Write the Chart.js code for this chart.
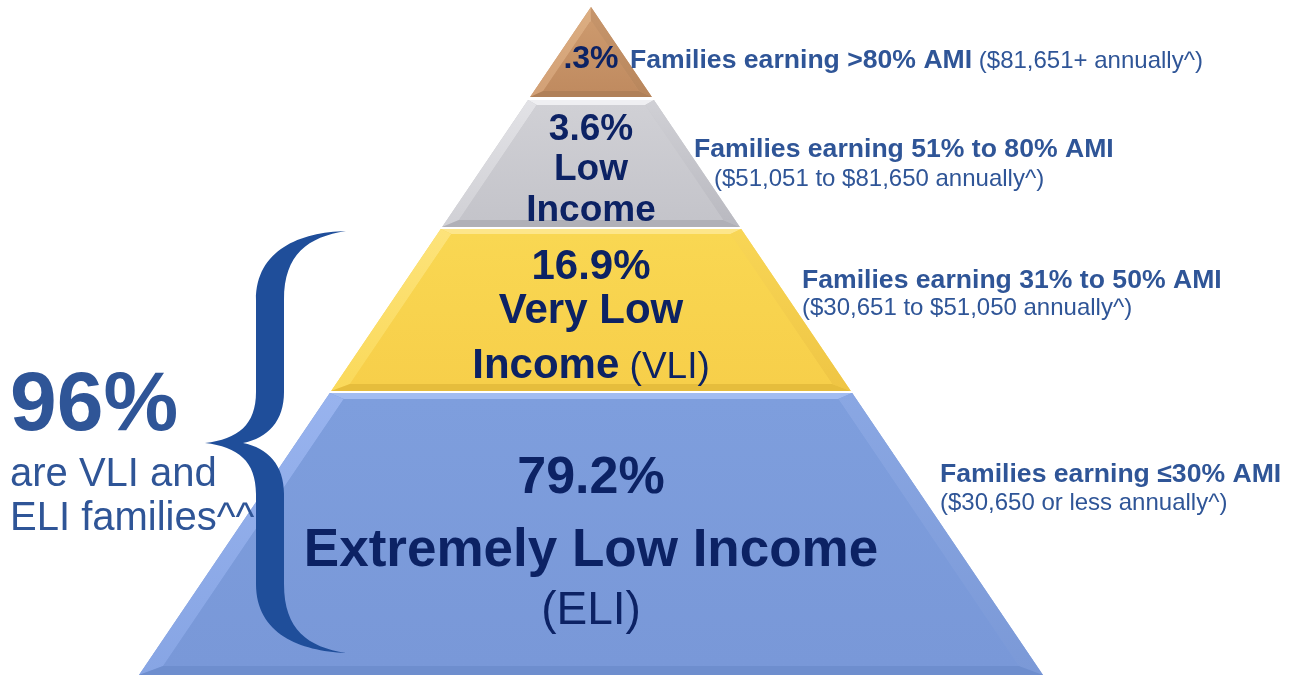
<!DOCTYPE html>
<html><head><meta charset="utf-8">
<script src="https://cdn.jsdelivr.net/npm/chart.js@4.4.1/dist/chart.umd.min.js"></script>
<style>html,body{margin:0;padding:0;background:#fff;overflow:hidden}#wrap{width:1293px;height:675px;position:relative}</style>
</head><body><div id="wrap"><canvas id="c" width="1293" height="675"></canvas></div>
<script>
// ---------- data ----------
const tierKeys = ['above80', 'low', 'veryLow', 'extremelyLow'];
const tierShares = [0.3, 3.6, 16.9, 79.2];
const shareLabels = ['.3%', '3.6%', '16.9%', '79.2%'];
const tierNameLines = [[], ['Low', 'Income'], ['Very Low', 'Income'], ['Extremely Low Income']];
const tierAbbr = ['', '', '(VLI)', '(ELI)'];
const calloutPrefix = 'Families earning ';
const amiRanges = ['>80% AMI', '51% to 80% AMI', '31% to 50% AMI', '\u226430% AMI'];
const incomeRanges = ['($81,651+ annually^)', '($51,051 to $81,650 annually^)', '($30,651 to $51,050 annually^)', '($30,650 or less annually^)'];
const summaryLines = ['are VLI and', 'ELI families^^'];
const summaryShare = Math.round(tierShares[2] + tierShares[3]) + '%';

// ---------- layout / style ----------
const FONT = '"Liberation Sans", Arial, Helvetica, sans-serif';
const NAVY = '#0c2264';
const BLUE_TXT = '#2f5597';
const BRACE = '#1f4e9a';
const L = {
  apexX: 591, apexY: 7, baseY: 675, baseHalf: 452,
  tierTop: [7, 100, 229, 393],
  tierBottom: [97, 227, 391, 675],
  bevTop: [0, 5, 5, 6],
  bevSide: [9, 12, 14, 18],
  bevBot: [6, 7, 7, 9]
};
const tierColors = [
  {base:'#c8946a', top:'#ddb088', l0:'#dcae82', l1:'#d2a076', r0:'#c7966c', r1:'#b8865c', bottom:'#b08058', f0:'#cc996d', f1:'#c08b60'},
  {base:'#c6c6cb', top:'#efeff2', l0:'#e2e2e6', l1:'#d0d0d5', r0:'#d0d0d5', r1:'#b9b9c0', bottom:'#b0b0b7', f0:'#d0d0d5', f1:'#c4c4ca'},
  {base:'#f8d24f', top:'#fde68a', l0:'#fde37a', l1:'#fad95a', r0:'#f8d656', r1:'#efc544', bottom:'#e6bd3c', f0:'#f9d752', f1:'#f7cf4a'},
  {base:'#7b9bdb', top:'#a2bcf1', l0:'#98b3ee', l1:'#87a5e4', r0:'#8aa7e3', r1:'#7b99d7', bottom:'#6e8ece', f0:'#7e9edd', f1:'#7998d8'}
];

function halfW(y){ return L.baseHalf * (y - L.apexY) / (L.baseY - L.apexY); }
function tierGeometry(i){
  const t = L.tierTop[i], b = L.tierBottom[i], ax = L.apexX;
  const bs = L.bevSide[i];
  let ti = t + L.bevTop[i];
  const minTop = L.apexY + bs * (L.baseY - L.apexY) / L.baseHalf * 1.1;
  if (ti < minTop) ti = minTop;
  const bi = b - L.bevBot[i];
  const TL=[ax-halfW(t),t], TR=[ax+halfW(t),t], BR=[ax+halfW(b),b], BL=[ax-halfW(b),b];
  const tl=[ax-halfW(ti)+bs,ti], tr=[ax+halfW(ti)-bs,ti], br=[ax+halfW(bi)-bs,bi], bl=[ax-halfW(bi)+bs,bi];
  return {TL,TR,BR,BL,tl,tr,br,bl,t,b,ti,bi};
}
function poly(pts){ return pts.concat([pts[0]]).map(p => ({x:p[0], y:p[1]})); }
function gradFill(c0, c1, y0, y1){
  return (ctx) => {
    const ch = ctx.chart;
    if (!ch.chartArea || !ch.scales.y) return c0;
    const g = ch.ctx.createLinearGradient(0, ch.scales.y.getPixelForValue(y0), 0, ch.scales.y.getPixelForValue(y1));
    g.addColorStop(0, c0); g.addColorStop(1, c1);
    return g;
  };
}
const datasets = [];
tierKeys.forEach((key, i) => {
  const g = tierGeometry(i), c = tierColors[i];
  const faces = [
    ['outer', [g.TL,g.TR,g.BR,g.BL], c.base],
    ['top', [g.TL,g.TR,g.tr,g.tl], c.top],
    ['left', [g.TL,g.tl,g.bl,g.BL], gradFill(c.l0, c.l1, g.t, g.b)],
    ['right', [g.TR,g.BR,g.br,g.tr], gradFill(c.r0, c.r1, g.t, g.b)],
    ['bottom', [g.BL,g.bl,g.br,g.BR], c.bottom],
    ['face', [g.tl,g.tr,g.br,g.bl], gradFill(c.f0, c.f1, g.ti, g.bi)]
  ];
  faces.forEach(([name, pts, col]) => {
    datasets.push({label: key + '-' + name, data: poly(pts), fill: 'shape', backgroundColor: col,
      borderColor: 'rgba(0,0,0,0)', borderWidth: 0, pointRadius: 0, tension: 0});
  });
});
// the filler paints the last dataset first, so reverse to keep outer shapes underneath
datasets.reverse();

// ---------- text & brace plugin ----------
function runs(ctx, parts, x, y, align){
  let w = 0;
  parts.forEach(p => { ctx.font = p.font; w += ctx.measureText(p.text).width; });
  let cx = align === 'center' ? x - w/2 : x;
  ctx.textAlign = 'left'; ctx.textBaseline = 'alphabetic';
  parts.forEach(p => { ctx.font = p.font; ctx.fillStyle = p.color; ctx.fillText(p.text, cx, y); cx += ctx.measureText(p.text).width; });
}
const labelLayout = [
  {lines:[{y:68, size:32}]},
  {lines:[{y:140,size:37},{y:180,size:37},{y:221,size:37}]},
  {lines:[{y:279,size:42},{y:323,size:42},{y:378,size:42}], abbrSize:37},
  {lines:[{y:493,size:52},{y:566,size:53},{y:624,size:46}], abbrOwnLine:true}
];
const calloutLayout = [
  {x:630, y:68, x2:null, y2:null},
  {x:694, y:157, x2:714, y2:186},
  {x:802, y:288, x2:802, y2:315},
  {x:940, y:482, x2:940, y2:510}
];
const pyramidText = {
  id: 'pyramidText',
  afterDatasetsDraw(chart){
    const ctx = chart.ctx, sx = chart.scales.x, sy = chart.scales.y;
    const X = v => sx.getPixelForValue(v), Y = v => sy.getPixelForValue(v);
    ctx.save();
    // tier labels
    tierKeys.forEach((k, i) => {
      const lay = labelLayout[i];
      const lines = [];
      lines.push([{text: shareLabels[i], bold:true}]);
      const names = tierNameLines[i];
      names.forEach((n, j) => {
        const parts = [{text:n, bold:true}];
        if (tierAbbr[i] && !lay.abbrOwnLine && j === names.length - 1) parts.push({text:' ' + tierAbbr[i], bold:false, size: lay.abbrSize});
        lines.push(parts);
      });
      if (tierAbbr[i] && lay.abbrOwnLine) lines.push([{text: tierAbbr[i], bold:false}]);
      lines.forEach((parts, j) => {
        const ln = lay.lines[j];
        runs(ctx, parts.map(p => ({text:p.text, color: NAVY,
          font: (p.bold ? 'bold ' : '') + (p.size || ln.size) + 'px ' + FONT})), X(L.apexX), Y(ln.y), 'center');
      });
    });
    // callouts
    tierKeys.forEach((k, i) => {
      const c = calloutLayout[i];
      const bold = {text: calloutPrefix + amiRanges[i], font: 'bold 26.6px ' + FONT, color: BLUE_TXT};
      const reg = {text: incomeRanges[i], font: '24px ' + FONT, color: BLUE_TXT};
      if (c.x2 === null) runs(ctx, [bold, {text:' ', font:'24px '+FONT, color:BLUE_TXT}, reg], X(c.x), Y(c.y), 'left');
      else { runs(ctx, [bold], X(c.x), Y(c.y), 'left'); runs(ctx, [reg], X(c.x2), Y(c.y2), 'left'); }
    });
    // brace
    const P = (x, y) => [X(x), Y(y)];
    ctx.beginPath();
    ctx.moveTo(...P(346,231));
    ctx.bezierCurveTo(...P(300,232), ...P(256,250), ...P(256,300));
    ctx.lineTo(...P(256,392));
    ctx.bezierCurveTo(...P(256,425), ...P(238,439), ...P(205,443));
    ctx.bezierCurveTo(...P(238,447), ...P(256,461), ...P(256,494));
    ctx.lineTo(...P(256,584));
    ctx.bezierCurveTo(...P(256,634), ...P(300,651), ...P(346,653));
    ctx.bezierCurveTo(...P(308,647), ...P(284,630), ...P(284,584));
    ctx.lineTo(...P(284,494));
    ctx.bezierCurveTo(...P(284,465), ...P(268,448), ...P(243,443));
    ctx.bezierCurveTo(...P(268,438), ...P(284,421), ...P(284,392));
    ctx.lineTo(...P(284,300));
    ctx.bezierCurveTo(...P(284,254), ...P(308,237), ...P(346,231));
    ctx.closePath();
    ctx.fillStyle = BRACE; ctx.fill();
    // summary
    runs(ctx, [{text: summaryShare, font: 'bold 84px ' + FONT, color: BLUE_TXT}], X(10), Y(430), 'left');
    runs(ctx, [{text: summaryLines[0], font: '40px ' + FONT, color: BLUE_TXT}], X(10), Y(486), 'left');
    runs(ctx, [{text: summaryLines[1], font: '40px ' + FONT, color: BLUE_TXT}], X(10), Y(530), 'left');
    ctx.restore();
  }
};

new Chart(document.getElementById('c'), {
  type: 'line',
  data: { datasets },
  options: {
    responsive: false, animation: false, events: [],
    layout: { padding: 0 },
    plugins: { legend: {display:false}, tooltip: {enabled:false}, title: {display:false} },
    scales: {
      x: { type: 'linear', min: 0, max: 1293, display: false },
      y: { type: 'linear', min: 0, max: 675, reverse: true, display: false }
    }
  },
  plugins: [pyramidText]
});
</script></body></html>
